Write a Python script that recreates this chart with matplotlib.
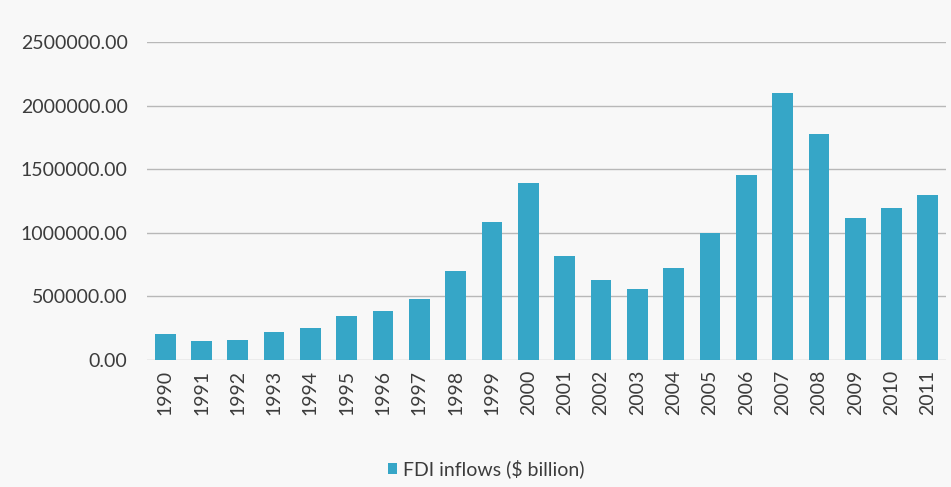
import numpy as np
import matplotlib.pyplot as plt

years = [str(y) for y in range(1990, 2012)]
fdi = [202000, 149000, 160000, 218000, 249000, 343000, 388000, 482000,
       702000, 1085000, 1391000, 820000, 629000, 558000, 726000, 996000,
       1454000, 2101000, 1777000, 1114000, 1197000, 1297000]
yticks = [0, 500000, 1000000, 1500000, 2000000, 2500000]

bar_color = '#36a6c7'
bg = '#f8f8f8'

plt.rcParams['font.family'] = ['Lato', 'DejaVu Sans']

fig = plt.figure(figsize=(9.51, 4.87), dpi=100, facecolor=bg)
ax = fig.add_axes([0.1546, 0.2608, 0.8401, 0.653])
ax.set_facecolor(bg)

x = np.arange(len(years))
ax.bar(x, fdi, width=0.57, color=bar_color, label='FDI inflows ($ billion)', zorder=3)

ax.set_xlim(-0.5, len(years) - 0.5)
ax.set_ylim(0, 2500000)
ax.set_yticks(yticks)
ax.set_yticklabels(['%.2f' % v for v in yticks], fontsize=14, color='#3c3c3c')
ax.set_xticks(x)
ax.set_xticklabels(years, rotation=90, fontsize=14, color='#3c3c3c')
ax.tick_params(length=0)
ax.tick_params(axis='y', pad=14)
ax.tick_params(axis='x', pad=7)
ax.grid(axis='y', color='#b8b8b8', linewidth=1, zorder=0)
for s in ax.spines.values():
    s.set_visible(False)

fig.legend(loc='center', bbox_to_anchor=(0.511, 0.037), frameon=False,
           fontsize=14, handlelength=0.45, handleheight=0.45, handletextpad=0.3,
           labelcolor='#3c3c3c')

fig.savefig('out.png', dpi=100, facecolor=bg)
